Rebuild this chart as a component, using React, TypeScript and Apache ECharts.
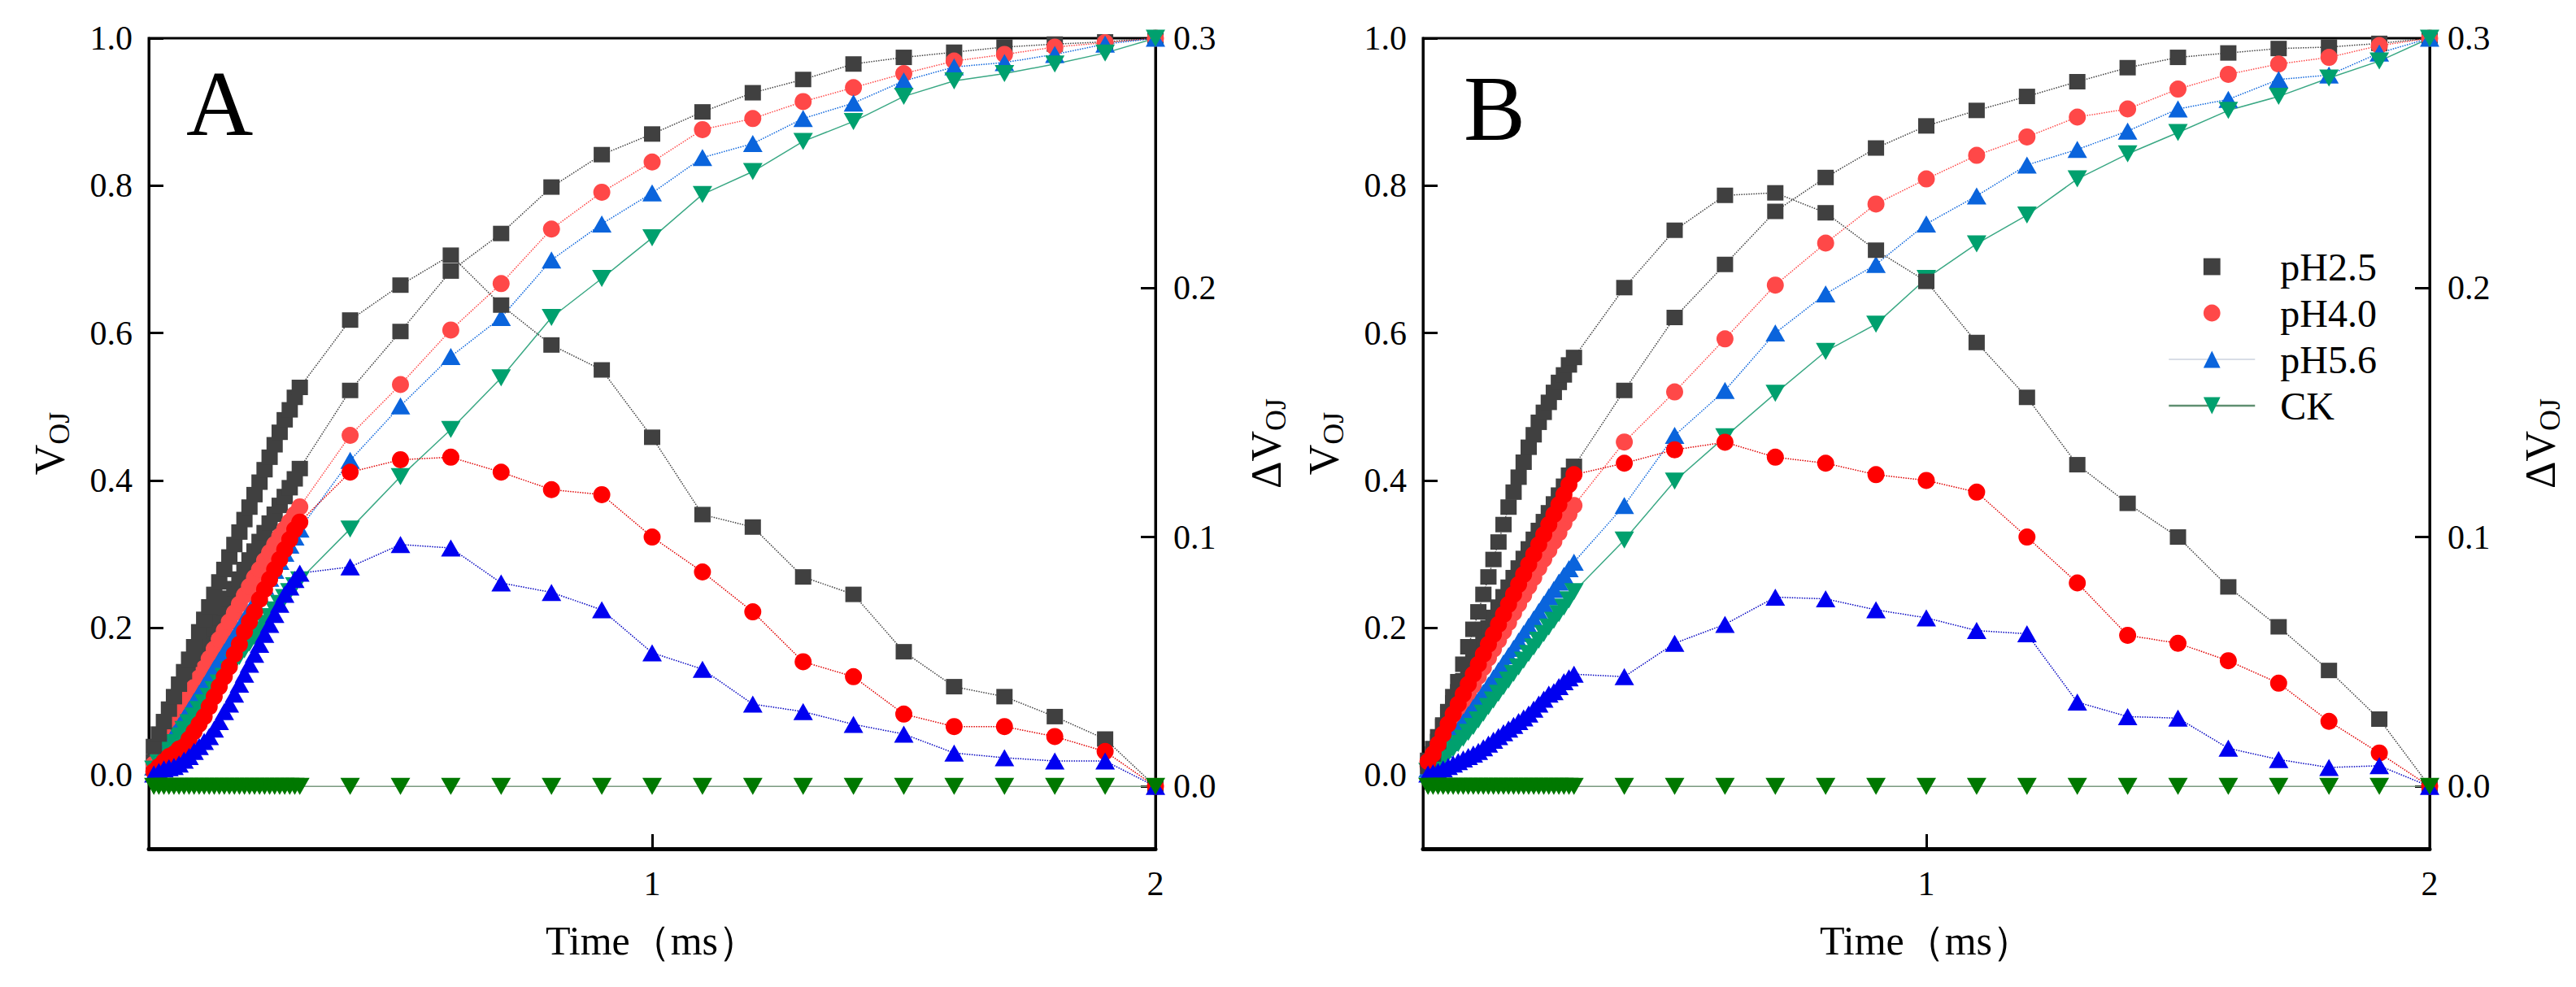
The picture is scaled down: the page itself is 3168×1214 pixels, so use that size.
import React, { useEffect, useRef } from "react";
import * as echarts from "echarts";

// ---------- data ----------
const TIME = [
  0.01, 0.02, 0.03, 0.04, 0.05, 0.06, 0.07, 0.08, 0.09, 0.1,
  0.11, 0.12, 0.13, 0.14, 0.15, 0.16, 0.17, 0.18, 0.19, 0.2,
  0.21, 0.22, 0.23, 0.24, 0.25, 0.26, 0.27, 0.28, 0.29, 0.3,
  0.4, 0.5, 0.6, 0.7, 0.8, 0.9, 1.0, 1.1, 1.2, 1.3, 1.4, 1.5, 1.6, 1.7, 1.8, 1.9, 2.0,
];

const TREATMENTS = ["pH2.5", "pH4.0", "pH5.6", "CK"];
const X_TICKS = [1, 2];
const VOJ_TICKS = [0, 0.2, 0.4, 0.6, 0.8, 1.0];
const DVOJ_TICKS = [0, 0.1, 0.2, 0.3];

// Panel A  (V_OJ, left axis)
const A_VOJ_PH25 = [
  0.018, 0.034, 0.05, 0.066, 0.082, 0.097, 0.112, 0.127, 0.142, 0.157,
  0.171, 0.185, 0.199, 0.213, 0.227, 0.24, 0.253, 0.266, 0.279, 0.292,
  0.304, 0.317, 0.329, 0.342, 0.354, 0.366, 0.378, 0.39, 0.402, 0.416,
  0.522, 0.602, 0.684, 0.735, 0.798, 0.842, 0.87, 0.9, 0.926, 0.944, 0.965, 0.974, 0.981, 0.988, 0.992, 0.995, 1.0,
];
const A_VOJ_PH40 = [
  0.015, 0.028, 0.041, 0.054, 0.067, 0.08, 0.093, 0.106, 0.119, 0.132,
  0.145, 0.158, 0.171, 0.184, 0.196, 0.208, 0.22, 0.232, 0.244, 0.256,
  0.268, 0.279, 0.291, 0.302, 0.313, 0.324, 0.334, 0.344, 0.354, 0.364,
  0.461, 0.53, 0.604, 0.667, 0.741, 0.791, 0.832, 0.876, 0.891, 0.914, 0.933, 0.952, 0.969, 0.978, 0.988, 0.994, 1.0,
];
const A_VOJ_PH56 = [
  0.011, 0.022, 0.033, 0.044, 0.056, 0.067, 0.078, 0.089, 0.1, 0.111,
  0.122, 0.133, 0.145, 0.156, 0.167, 0.178, 0.189, 0.2, 0.212, 0.223,
  0.234, 0.245, 0.256, 0.267, 0.278, 0.29, 0.301, 0.312, 0.323, 0.334,
  0.427, 0.501, 0.568, 0.621, 0.699, 0.748, 0.79, 0.838, 0.857, 0.891, 0.912, 0.942, 0.961, 0.967, 0.978, 0.992, 1.0,
];
const A_VOJ_CK = [
  0.008, 0.017, 0.026, 0.035, 0.044, 0.053, 0.062, 0.071, 0.08, 0.089,
  0.098, 0.107, 0.116, 0.125, 0.134, 0.143, 0.152, 0.161, 0.17, 0.179,
  0.188, 0.197, 0.206, 0.215, 0.224, 0.233, 0.241, 0.249, 0.257, 0.265,
  0.334, 0.405, 0.469, 0.539, 0.621, 0.674, 0.729, 0.788, 0.819, 0.86, 0.887, 0.921, 0.942, 0.952, 0.965, 0.98, 1.0,
];
// Panel A  (ΔV_OJ, right axis)
const A_DVOJ_PH25 = [
  0.016, 0.021, 0.026, 0.031, 0.036, 0.041, 0.046, 0.051, 0.056, 0.062,
  0.067, 0.072, 0.077, 0.082, 0.087, 0.092, 0.097, 0.102, 0.107, 0.112,
  0.117, 0.122, 0.127, 0.132, 0.137, 0.142, 0.147, 0.151, 0.156, 0.16,
  0.187, 0.201, 0.213, 0.193, 0.177, 0.167, 0.14, 0.109, 0.104, 0.084, 0.077, 0.054, 0.04, 0.036, 0.028, 0.019, 0.0,
];
const A_DVOJ_PH40 = [
  0.006, 0.008, 0.01, 0.012, 0.013, 0.015, 0.016, 0.019, 0.022, 0.025,
  0.028, 0.032, 0.036, 0.04, 0.044, 0.048, 0.053, 0.057, 0.062, 0.066,
  0.07, 0.075, 0.079, 0.083, 0.087, 0.091, 0.095, 0.099, 0.103, 0.106,
  0.126, 0.131, 0.132, 0.126, 0.119, 0.117, 0.1, 0.086, 0.07, 0.05, 0.044, 0.029, 0.024, 0.024, 0.02, 0.014, 0.0,
];
const A_DVOJ_PH56 = [
  0.005, 0.006, 0.007, 0.0075, 0.008, 0.009, 0.0105, 0.012, 0.014, 0.016,
  0.018, 0.02, 0.023, 0.026, 0.03, 0.033, 0.037, 0.041, 0.045, 0.049,
  0.053, 0.057, 0.061, 0.065, 0.069, 0.073, 0.077, 0.08, 0.083, 0.0855,
  0.088, 0.097, 0.0956, 0.0816, 0.0778, 0.0708, 0.0536, 0.047, 0.033, 0.03, 0.0249, 0.021, 0.0134, 0.0115, 0.0102, 0.0102, 0.0,
];
const A_DVOJ_CK = [
  0, 0, 0, 0, 0, 0, 0, 0, 0, 0,
  0, 0, 0, 0, 0, 0, 0, 0, 0, 0,
  0, 0, 0, 0, 0, 0, 0, 0, 0, 0,
  0, 0, 0, 0, 0, 0, 0, 0, 0, 0, 0, 0, 0, 0, 0, 0, 0,
];

// Panel B  (V_OJ, left axis)
const B_VOJ_PH25 = [
  0.02, 0.036, 0.052, 0.068, 0.083, 0.098, 0.113, 0.128, 0.143, 0.158,
  0.172, 0.186, 0.2, 0.214, 0.228, 0.242, 0.255, 0.268, 0.281, 0.294,
  0.307, 0.32, 0.332, 0.344, 0.356, 0.368, 0.38, 0.392, 0.407, 0.419,
  0.522, 0.621, 0.693, 0.765, 0.811, 0.851, 0.881, 0.902, 0.921, 0.941, 0.96, 0.974, 0.98, 0.986, 0.988, 0.993, 1.0,
];
const B_VOJ_PH40 = [
  0.012, 0.024, 0.037, 0.049, 0.061, 0.073, 0.085, 0.098, 0.11, 0.122,
  0.134, 0.146, 0.159, 0.171, 0.183, 0.195, 0.207, 0.22, 0.232, 0.244,
  0.256, 0.268, 0.281, 0.293, 0.305, 0.317, 0.329, 0.342, 0.354, 0.366,
  0.452, 0.52, 0.592, 0.665, 0.722, 0.775, 0.809, 0.841, 0.866, 0.893, 0.904, 0.931, 0.951, 0.965, 0.974, 0.99, 1.0,
];
const B_VOJ_PH56 = [
  0.008, 0.017, 0.026, 0.035, 0.044, 0.053, 0.062, 0.072, 0.082, 0.092,
  0.102, 0.112, 0.122, 0.132, 0.142, 0.152, 0.162, 0.172, 0.182, 0.192,
  0.202, 0.212, 0.222, 0.232, 0.242, 0.252, 0.262, 0.271, 0.28, 0.289,
  0.366, 0.461, 0.522, 0.6, 0.653, 0.693, 0.748, 0.786, 0.828, 0.849, 0.874, 0.904, 0.917, 0.944, 0.95, 0.98, 1.0,
];
const B_VOJ_CK = [
  0.005, 0.011, 0.017, 0.023, 0.029, 0.036, 0.043, 0.05, 0.058, 0.066,
  0.075, 0.084, 0.093, 0.102, 0.111, 0.12, 0.129, 0.138, 0.147, 0.156,
  0.165, 0.174, 0.183, 0.192, 0.201, 0.21, 0.219, 0.228, 0.238, 0.249,
  0.319, 0.399, 0.459, 0.518, 0.575, 0.612, 0.674, 0.721, 0.76, 0.809, 0.843, 0.872, 0.902, 0.921, 0.946, 0.969, 1.0,
];
// Panel B  (ΔV_OJ, right axis)
const B_DVOJ_PH25 = [
  0.008, 0.013, 0.018, 0.024, 0.03, 0.036, 0.042, 0.049, 0.056, 0.063,
  0.07, 0.077, 0.084, 0.091, 0.098, 0.105, 0.112, 0.118, 0.124, 0.13,
  0.136, 0.141, 0.146, 0.15, 0.154, 0.158, 0.162, 0.165, 0.169, 0.172,
  0.2, 0.223, 0.237, 0.238, 0.23, 0.215, 0.2025, 0.178, 0.156, 0.129, 0.1135, 0.1, 0.08, 0.064, 0.0465, 0.027, 0.0,
];
const B_DVOJ_PH40 = [
  0.01, 0.013, 0.017, 0.021, 0.025, 0.029, 0.033, 0.037, 0.041, 0.045,
  0.049, 0.053, 0.057, 0.061, 0.065, 0.069, 0.073, 0.077, 0.081, 0.085,
  0.089, 0.093, 0.097, 0.101, 0.105, 0.109, 0.113, 0.117, 0.121, 0.125,
  0.1296, 0.135, 0.138, 0.132, 0.1296, 0.125, 0.1227, 0.118, 0.1, 0.0816, 0.0606, 0.0574, 0.0504, 0.0414, 0.0261, 0.0134, 0.0,
];
const B_DVOJ_PH56 = [
  0.005, 0.0055, 0.006, 0.007, 0.008, 0.009, 0.01, 0.011, 0.012, 0.013,
  0.014, 0.0155, 0.017, 0.0185, 0.02, 0.0215, 0.023, 0.0245, 0.026, 0.0275,
  0.029, 0.031, 0.033, 0.035, 0.037, 0.038, 0.04, 0.042, 0.0435, 0.045,
  0.044, 0.0574, 0.065, 0.0759, 0.0752, 0.0708, 0.0676, 0.0625, 0.0612, 0.0338, 0.028, 0.0274, 0.0153, 0.0108, 0.0076, 0.0083, 0.0,
];
const B_DVOJ_CK = [
  0, 0, 0, 0, 0, 0, 0, 0, 0, 0,
  0, 0, 0, 0, 0, 0, 0, 0, 0, 0,
  0, 0, 0, 0, 0, 0, 0, 0, 0, 0,
  0, 0, 0, 0, 0, 0, 0, 0, 0, 0, 0, 0, 0, 0, 0, 0, 0,
];

// ---------- styles ----------
const FONT = "'Liberation Serif', 'DejaVu Serif', serif";

const STY = [
  { symbol: "rect", size: [20, 19], rotate: 0, voj: "#404040", d: "#404040", vLine: "#404040", dLine: "#404040", lt: "dotted" },
  { symbol: "circle", size: 21, rotate: 0, voj: "#ff4848", d: "#ff0000", vLine: "#ff4848", dLine: "#e00000", lt: "dotted" },
  { symbol: "triangle", size: [24, 21], rotate: 0, voj: "#0a64dc", d: "#0000f0", vLine: "#0a64dc", dLine: "#0000c0", lt: "dotted" },
  { symbol: "triangle", size: [24, 21], rotate: 180, voj: "#00a06e", d: "#007800", vLine: "#3aa884", dLine: "#7a9a80", lt: "solid" },
];

function mkSeries(idx: number, arr: number[], xIdx: number, yIdx: number, delta: boolean) {
  const s = STY[idx];
  return {
    type: "line",
    name: TREATMENTS[idx],
    xAxisIndex: xIdx,
    yAxisIndex: yIdx,
    data: TIME.map((t, i) => [t, arr[i]]),
    symbol: s.symbol,
    symbolSize: s.size,
    symbolRotate: s.rotate,
    showAllSymbol: true,
    itemStyle: { color: delta ? s.d : s.voj, opacity: 1 },
    lineStyle: { color: delta ? s.dLine : s.vLine, width: 1.5, type: s.lt },
    silent: true,
    emphasis: { disabled: true },
    animation: false,
  };
}

const GRID_TOP = 47;
const GRID_H = 997;
const GRID_W = 1238;
const GRID_LEFTS = [183, 1750];

function xAxisFor(g: number) {
  return {
    gridIndex: g,
    type: "value",
    min: 0,
    max: 2,
    axisLine: { show: true, onZero: false, lineStyle: { color: "#000", width: 5 } },
    axisTick: { show: true, inside: true, length: 18, customValues: X_TICKS, lineStyle: { color: "#000", width: 3 } },
    axisLabel: { show: true, customValues: X_TICKS, margin: 22, fontSize: 42, fontFamily: FONT, color: "#000", formatter: (v: number) => String(v) },
    splitLine: { show: false },
    name: "Time（ms）",
    nameLocation: "middle",
    nameGap: 88,
    nameTextStyle: { fontSize: 50, fontFamily: FONT, color: "#000" },
  };
}

const richName = {
  v: { fontSize: 52, fontFamily: FONT, color: "#000", lineHeight: 56, verticalAlign: "top" },
  s: { fontSize: 36, fontFamily: FONT, color: "#000", lineHeight: 40, padding: [26, 0, 0, 0], verticalAlign: "bottom" },
};

function yAxisVoj(g: number) {
  return {
    gridIndex: g,
    type: "value",
    position: "left",
    min: -0.1,
    max: 1.0,
    axisLine: { show: true, onZero: false, lineStyle: { color: "#000", width: 3 } },
    axisTick: { show: true, inside: true, length: 18, customValues: VOJ_TICKS, lineStyle: { color: "#000", width: 3 } },
    axisLabel: { show: true, customValues: VOJ_TICKS, margin: 20, fontSize: 42, fontFamily: FONT, color: "#000", formatter: (v: number) => v.toFixed(1) },
    splitLine: { show: false },
    name: "{v|V}{s|OJ}",
    nameLocation: "middle",
    nameRotate: 90,
    nameGap: 92,
    nameTextStyle: { fontFamily: FONT, color: "#000", rich: richName },
  };
}

function yAxisDvoj(g: number) {
  return {
    gridIndex: g,
    type: "value",
    position: "right",
    min: -0.025,
    max: 0.3,
    axisLine: { show: true, onZero: false, lineStyle: { color: "#000", width: 3 } },
    axisTick: { show: true, inside: true, length: 18, customValues: DVOJ_TICKS, lineStyle: { color: "#000", width: 3 } },
    axisLabel: { show: true, customValues: DVOJ_TICKS, margin: 22, fontSize: 42, fontFamily: FONT, color: "#000", formatter: (v: number) => v.toFixed(1) },
    splitLine: { show: false },
    name: "{v|ΔV}{s|OJ}",
    nameLocation: "middle",
    nameRotate: 90,
    nameGap: 110,
    nameTextStyle: { fontFamily: FONT, color: "#000", rich: richName },
  };
}

const LEGEND_LINES = [
  { opacity: 0 },
  { opacity: 0 },
  { color: "#d8dde6", width: 2, type: "solid", opacity: 1 },
  { color: "#5f8f70", width: 2.5, type: "solid", opacity: 1 },
];

function buildOption() {
  const panelA = [
    [A_VOJ_PH25, A_VOJ_PH40, A_VOJ_PH56, A_VOJ_CK],
    [A_DVOJ_PH25, A_DVOJ_PH40, A_DVOJ_PH56, A_DVOJ_CK],
  ];
  const panelB = [
    [B_VOJ_PH25, B_VOJ_PH40, B_VOJ_PH56, B_VOJ_CK],
    [B_DVOJ_PH25, B_DVOJ_PH40, B_DVOJ_PH56, B_DVOJ_CK],
  ];
  const series: any[] = [];
  [panelA, panelB].forEach((panel, p) => {
    panel[0].forEach((arr, i) => series.push(mkSeries(i, arr, p, p * 2, false)));
    panel[1].forEach((arr, i) => series.push(mkSeries(i, arr, p, p * 2 + 1, true)));
  });

  return {
    animation: false,
    backgroundColor: "#ffffff",
    textStyle: { fontFamily: FONT },
    grid: GRID_LEFTS.map((left) => ({
      left,
      top: GRID_TOP,
      width: GRID_W,
      height: GRID_H,
      show: true,
      borderColor: "#000",
      borderWidth: 3,
      backgroundColor: "transparent",
      containLabel: false,
    })),
    xAxis: [xAxisFor(0), xAxisFor(1)],
    yAxis: [yAxisVoj(0), yAxisDvoj(0), yAxisVoj(1), yAxisDvoj(1)],
    legend: {
      data: TREATMENTS.map((name, i) => ({ name, lineStyle: LEGEND_LINES[i] })),
      orient: "vertical",
      left: 2666,
      top: 303,
      padding: 0,
      itemWidth: 106,
      itemHeight: 26,
      itemGap: 7,
      selectedMode: false,
      textStyle: { fontSize: 48, fontFamily: FONT, color: "#000", padding: [0, 0, 0, 26], lineHeight: 50 },
    },
    graphic: [
      { type: "text", x: 229, y: 127, silent: true, style: { text: "A", fontSize: 114, fontFamily: FONT, fill: "#000", textAlign: "left", textVerticalAlign: "middle" } },
      { type: "text", x: 1800, y: 133, silent: true, style: { text: "B", fontSize: 114, fontFamily: FONT, fill: "#000", textAlign: "left", textVerticalAlign: "middle" } },
    ],
    series,
  };
}

export default function App() {
  const ref = useRef<HTMLDivElement>(null);
  useEffect(() => {
    if (!ref.current) return;
    const chart = echarts.init(ref.current, null, { renderer: "svg" });
    chart.setOption(buildOption() as any);
    return () => chart.dispose();
  }, []);
  return (
    <div
      ref={ref}
      style={{ position: "fixed", left: 0, top: 0, width: "3168px", height: "1214px", background: "#fff" }}
    />
  );
}
